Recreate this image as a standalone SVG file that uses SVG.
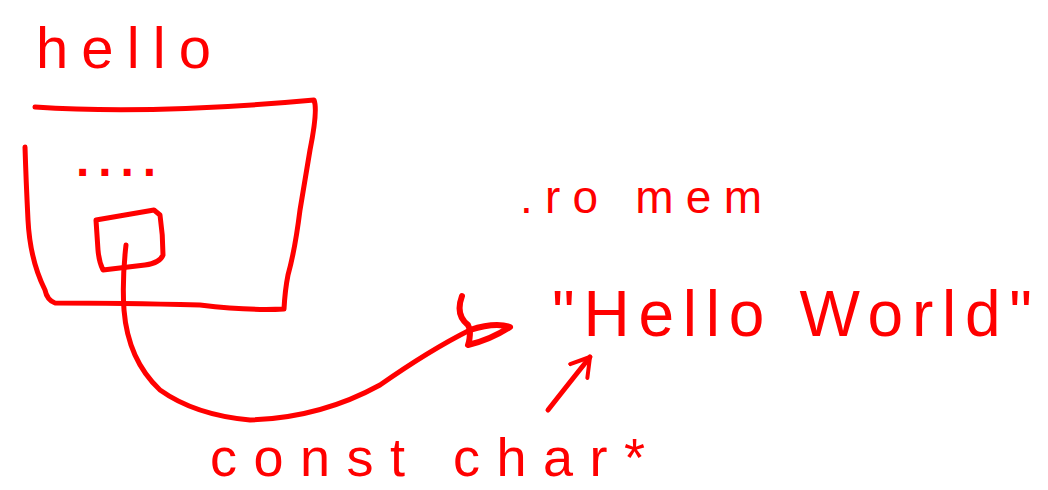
<svg xmlns="http://www.w3.org/2000/svg" width="1048" height="490" viewBox="0 0 1048 490">
<style>
.s{fill:none;stroke:#ff0000;stroke-width:5;stroke-linecap:round;stroke-linejoin:round}
.t{fill:#ff0000;font-family:"Liberation Sans",Arial,sans-serif}
</style>
<defs>
<marker id="open" markerWidth="30" markerHeight="30" refX="20" refY="15" orient="auto" markerUnits="userSpaceOnUse" viewBox="0 0 30 30">
<path d="M2 4 L20 15 L2 26" fill="none" stroke="#ff0000" stroke-width="4" stroke-linecap="round" stroke-linejoin="round"/>
</marker>
</defs>
<rect width="1048" height="490" fill="#ffffff"/>
<g id="title"><text class="t" x="36" y="68" font-size="58" textLength="175" lengthAdjust="spacing">hello</text></g>
<g id="frame">
<path class="s" d="M35 107 Q150 115 314 100 Q318 110 310 150 L300 210 Q295 250 288 275 Q285 290 284 309 Q250 311 200 305 Q120 303 55 303 Q47 300 45 290 Q30 260 28 220 Q26 180 25 147"/>
<text class="t" x="76" y="176" font-size="48" font-weight="bold" textLength="80" lengthAdjust="spacing">....</text>
</g>
<g id="slot">
<path class="s" d="M96 220 Q125 215 154 210 L160 215 Q163 235 163 255 Q160 263 145 265 L103 270 Q99 262 98 250 Z"/>
</g>
<g id="romem"><text class="t" x="520" y="213" font-size="46" textLength="242" lengthAdjust="spacing">.ro mem</text></g>
<g id="literal"><text class="t" x="552" y="336" font-size="64" textLength="480" lengthAdjust="spacing">"Hello World"</text></g>
<g id="ctype"><text class="t" x="210" y="476" font-size="54" textLength="435" lengthAdjust="spacing">const char*</text></g>
<g id="connectors">
<path class="s" d="M126 245 Q122 280 124 310 Q128 360 160 390 Q195 415 250 420 Q320 418 380 385 Q430 350 470 330"/>
<path d="M462 296 Q455 315 468 325 L470 330 Q470 340 468 345 Q490 340 510 327 Q495 322 470 330" fill="none" stroke="#ff0000" stroke-width="6" stroke-linecap="round" stroke-linejoin="round"/>
<path class="s" d="M548 410 Q570 382 590 357" marker-end="url(#open)"/>
</g>
</svg>
